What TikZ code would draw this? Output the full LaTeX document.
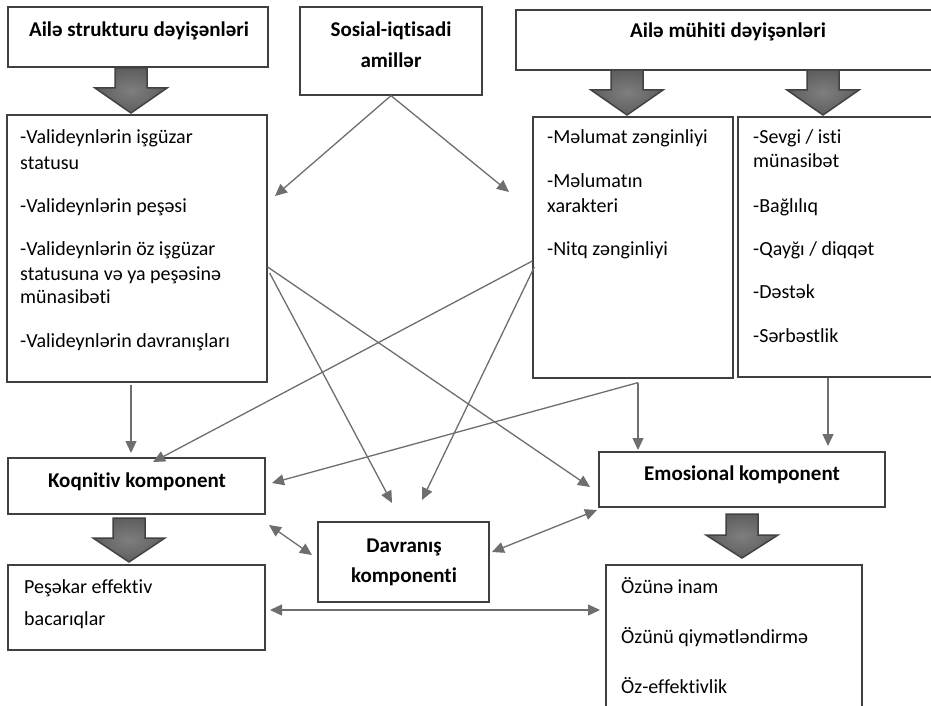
\documentclass[tikz,border=0pt]{standalone}
\usepackage{fontspec}
\setmainfont{Carlito}[Ligatures=NoCommon]
\usetikzlibrary{arrows.meta,calc}
\definecolor{bord}{HTML}{404040}
\definecolor{conn}{HTML}{6E6E6E}
\definecolor{blkfill}{HTML}{5E5E5E}
\definecolor{blkdraw}{HTML}{424242}
\tikzset{
  box/.style={draw=bord, line width=1.3pt, fill=white, inner sep=0pt, rectangle},
  hdr/.style={inner sep=0pt, anchor=base, align=center, font=\fontsize{21}{25}\selectfont\bfseries},
  bodytxt/.style={inner sep=0pt, anchor=base west, font=\fontsize{20}{24}\selectfont},
  conline/.style={draw=conn, line width=1.3pt, -{Triangle[length=12pt,width=11pt]}},
  dconline/.style={draw=conn, line width=1.3pt, {Triangle[length=12pt,width=11pt]}-{Triangle[length=12pt,width=11pt]}},
  barrow/.style={inner color=blkfill!80, outer color=blkfill, draw=blkdraw, line width=1.5pt, line join=miter}
}
\newcommand\myblockarr[4]{%
  \draw[barrow] (#1-16,#2) -- (#1+16,#2) -- (#1+16,#3) -- (#1+36,#3) -- (#1,#4) -- (#1-36,#3) -- (#1-16,#3) -- cycle;}
\begin{document}
\begin{tikzpicture}[x=1pt,y=-1pt]
\clip (0,0) rectangle (931,706);
\fill[white] (0,0) rectangle (931,706);

% boxes
\node[box, minimum width=260pt, minimum height=60pt] (b1) at (138,37) {};
\node[box, minimum width=182pt, minimum height=88pt] (b2) at (391,51) {};
\node[box, minimum width=419pt, minimum height=60pt] (b3) at (725.5,40) {};
\node[box, minimum width=260pt, minimum height=267pt] (b4) at (137,248.5) {};
\node[box, minimum width=200pt, minimum height=261pt] (b5) at (633,247.5) {};
\node[box, minimum width=202pt, minimum height=260pt] (b6) at (839,247) {};
\node[box, minimum width=257pt, minimum height=56pt] (bK) at (136.5,486) {};
\node[box, minimum width=257pt, minimum height=85pt] (bP) at (136.5,607.5) {};
\node[box, minimum width=171pt, minimum height=80pt] (bD) at (403.5,562) {};
\node[box, minimum width=286pt, minimum height=55pt] (bE) at (742,479.5) {};
\node[box, minimum width=256pt, minimum height=155pt] (bO) at (734,642.5) {};

% block arrows
\myblockarr{131}{68}{88}{113}
\myblockarr{627}{70}{90}{115}
\myblockarr{823}{70}{90}{115}
\myblockarr{129}{518}{538}{562}
\myblockarr{742}{514}{535}{558}

% header texts
\node[hdr] (t1) at (139,37) {Ailə strukturu dəyişənləri};
\node[hdr] (t2a) at (391,37) {Sosial-iqtisadi};
\node[hdr] (t2b) at (391,68) {amillər};
\node[hdr] (t3) at (728,38) {Ailə mühiti dəyişənləri};
\node[hdr] (tK) at (137,487) {Koqnitiv komponent};
\node[hdr] (tE) at (742,480) {Emosional komponent};
\node[hdr] (tDa) at (404,552) {Davranış};
\node[hdr] (tDb) at (404,582) {komponenti};

% list texts
\node[bodytxt] (l41) at (20,143) {-Valideynlərin işgüzar};
\node[bodytxt] (l42) at (20,169) {statusu};
\node[bodytxt] (l43) at (20,212) {-Valideynlərin peşəsi};
\node[bodytxt] (l44) at (20,255) {-Valideynlərin öz işgüzar};
\node[bodytxt] (l45) at (20,280) {statusuna və ya peşəsinə};
\node[bodytxt] (l46) at (20,303) {münasibəti};
\node[bodytxt] (l47) at (20,347) {-Valideynlərin davranışları};

\node[bodytxt] (l51) at (547,143) {-Məlumat zənginliyi};
\node[bodytxt] (l52) at (547,187) {-Məlumatın};
\node[bodytxt] (l53) at (547,212) {xarakteri};
\node[bodytxt] (l54) at (547,255) {-Nitq zənginliyi};

\node[bodytxt] (l61) at (753,143) {-Sevgi / isti};
\node[bodytxt] (l62) at (753,167) {münasibət};
\node[bodytxt] (l63) at (753,212) {-Bağlılıq};
\node[bodytxt] (l64) at (753,255) {-Qayğı / diqqət};
\node[bodytxt] (l65) at (753,298) {-Dəstək};
\node[bodytxt] (l66) at (753,342) {-Sərbəstlik};

\node[bodytxt] (lP1) at (24,593) {Peşəkar effektiv};
\node[bodytxt] (lP2) at (24,625) {bacarıqlar};

\node[bodytxt] (lO1) at (621,593) {Özünə inam};
\node[bodytxt] (lO2) at (621,643) {Özünü qiymətləndirmə};
\node[bodytxt] (lO3) at (621,693) {Öz-effektivlik};

% connector end points
\coordinate (e1) at (275,196);
\coordinate (e2) at (509,192);
\coordinate (e3) at (590,487);
\coordinate (e4) at (392,503);
\coordinate (e5) at (153,462);
\coordinate (e6) at (422,500);
\coordinate (e7) at (272,483);
\coordinate (e8) at (638,450);
\coordinate (e9) at (131,453);
\coordinate (e10) at (828,446);
\coordinate (d1a) at (269,525);
\coordinate (d1b) at (312,555);
\coordinate (d2a) at (492,552);
\coordinate (d2b) at (597,510);
\coordinate (d3a) at (270,610);
\coordinate (d3b) at (600,610);

% connectors
\draw[conline] (b2.south) -- (e1);
\draw[conline] (b2.south) -- (e2);
\draw[conline] ([yshift=-18.5pt]b4.east) -- (e3);
\draw[conline] ([xshift=2pt,yshift=-24.5pt]b4.east) -- (e4);
\draw[conline] ([yshift=-13.5pt]b5.west) -- (e5);
\draw[conline] ([xshift=2pt,yshift=-19.5pt]b5.west) -- (e6);
\draw[conline] ([xshift=5pt,yshift=-4pt]b5.south) -- (e7);
\draw[conline] ([xshift=5pt,yshift=-4pt]b5.south) -- (e8);
\draw[conline] ([xshift=-6pt,yshift=-2pt]b4.south) -- (e9);
\draw[conline] ([xshift=-11pt]b6.south) -- (e10);
\draw[dconline] (d1a) -- (d1b);
\draw[dconline] (d2a) -- (d2b);
\draw[dconline] (d3a) -- (d3b);
\end{tikzpicture}
\end{document}
